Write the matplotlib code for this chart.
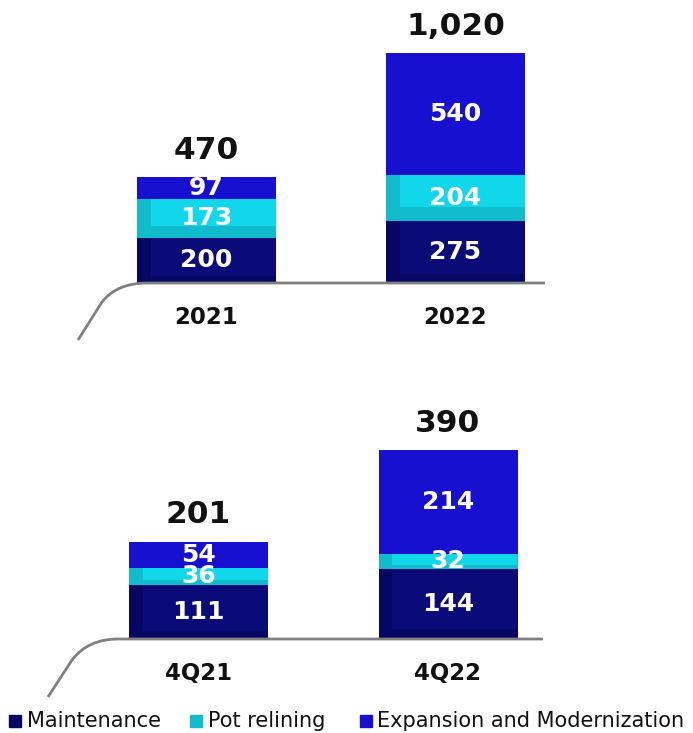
import matplotlib.pyplot as plt
from matplotlib.patches import Rectangle, PathPatch
from matplotlib.path import Path

# data
years = ["2021", "2022"]
maint_y = [200, 275]
pot_y = [173, 204]
exp_y = [97, 540]
total_y = ["470", "1,020"]

quarters = ["4Q21", "4Q22"]
maint_q = [111, 144]
pot_q = [36, 32]
exp_q = [54, 214]
total_q = ["201", "390"]

series_names = ["Maintenance", "Pot relining", "Expansion and Modernization"]
dark = ["#060664", "#10bccc", "#1810d0"]
light = ["#0a0a78", "#10d8ea", "#1810d0"]

W, H = 693, 733
plt.rcParams['font.family'] = ['DejaVu Sans']
fig = plt.figure(figsize=(W / 100, H / 100), dpi=100)


def px_axes(left, top, right, bottom):
    return fig.add_axes([left / W, 1 - bottom / H, (right - left) / W, (bottom - top) / H])


def draw_panel(ax, cats, stacks, totals, width):
    xs = range(len(cats))
    for i in xs:
        base = 0
        for k, vals in enumerate(stacks):
            v = vals[i]
            ax.bar(i, v, width, bottom=base, color=dark[k], linewidth=0)
            # lighter inner face
            frac = 0.3 if k == 1 else 0.15
            ax.bar(i + width * 0.05, v * (1 - frac), width * 0.9, bottom=base + v * frac,
                   color=light[k], linewidth=0)
            ax.text(i, base + v / 2, str(v), ha="center", va="center", color="white",
                    fontsize=18, fontweight="bold")
            base += v
        ax.annotate(totals[i], (i, base), xytext=(0, 9), textcoords="offset points",
                    ha="center", va="bottom", fontsize=22.5, fontweight="bold",
                    color="#111111", annotation_clip=False)
        ax.annotate(cats[i], (i, 0), xytext=(0, -25), textcoords="offset points",
                    ha="center", va="center", fontsize=16.5, fontweight="bold",
                    color="#111111", annotation_clip=False)
    ax.axis("off")


def baseline(x0, y0, xm, ym, xc, yb, xe):
    verts = [(x0, y0), (xm, ym), (xc, yb), (xc + 30, yb), (xe, yb)]
    codes = [Path.MOVETO, Path.LINETO, Path.CURVE3, Path.CURVE3, Path.LINETO]
    verts = [(x / W, 1 - y / H) for x, y in verts]
    fig.patches.append(PathPatch(Path(verts, codes), transform=fig.transFigure,
                                 fill=False, edgecolor="#808080", linewidth=2, zorder=0))


# top panel: bar centres at 206.5 and 455.5 px, base at 283 px
ax1 = px_axes(0, 35, W, 283)
ax1.set_xlim(-206.5 / 249, (W - 206.5) / 249)
ax1.set_ylim(0, (283 - 35) / 0.2255)
draw_panel(ax1, years, [maint_y, pot_y, exp_y], total_y, 139 / 249)
baseline(78, 340, 102, 302, 117, 283, 545)

# bottom panel: bar centres at 198.5 and 448 px, base at 639 px
ax2 = px_axes(0, 421, W, 639)
ax2.set_xlim(-198.5 / 249.5, (W - 198.5) / 249.5)
ax2.set_ylim(0, (639 - 421) / 0.4846)
draw_panel(ax2, quarters, [maint_q, pot_q, exp_q], total_q, 139 / 249.5)
baseline(48, 697, 72, 660, 88, 639, 543)

# legend
for name, c, xs, xt in zip(series_names, dark, [9, 190, 360], [27, 208, 377]):
    fig.patches.append(Rectangle((xs / W, 1 - 727 / H), 12 / W, 12 / H,
                                 transform=fig.transFigure, color=c))
    fig.text(xt / W, 1 - 721 / H, name, ha="left", va="center", fontsize=15, color="#111111")

fig.savefig("out.png", dpi=100)
